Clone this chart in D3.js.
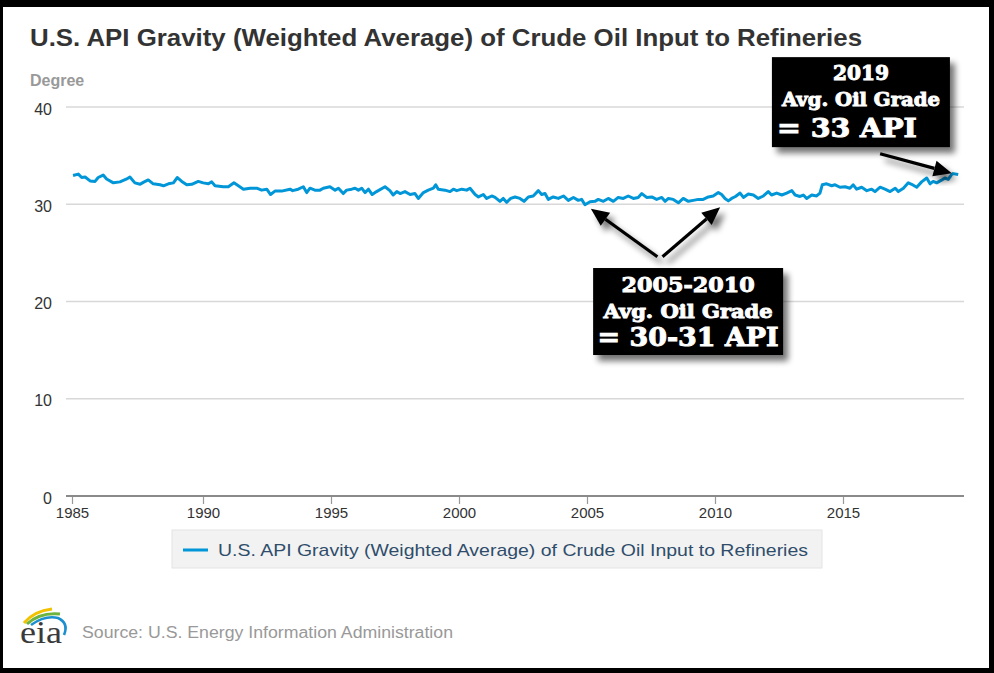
<!DOCTYPE html>
<html><head><meta charset="utf-8">
<script src="https://cdn.jsdelivr.net/npm/d3@7"></script>
<style>body{margin:0;background:#000}svg{display:block}</style>
</head><body><svg id="c" width="994" height="673"></svg>
<script>
// ---- data ----
const years=[1985.04,1985.24,1985.37,1985.5,1985.69,1985.88,1986.0,1986.19,1986.32,1986.58,1986.83,1987.09,1987.21,1987.4,1987.6,1987.72,1987.91,1988.1,1988.36,1988.49,1988.68,1988.87,1989.02,1989.19,1989.38,1989.57,1989.82,1990.01,1990.21,1990.34,1990.47,1990.79,1990.99,1991.21,1991.38,1991.58,1991.84,1992.1,1992.29,1992.49,1992.64,1992.81,1993.07,1993.4,1993.5,1993.72,1993.92,1994.05,1994.18,1994.37,1994.57,1994.7,1994.96,1995.16,1995.29,1995.48,1995.61,1995.81,1995.94,1996.07,1996.2,1996.33,1996.46,1996.61,1996.78,1997.11,1997.3,1997.43,1997.57,1997.7,1997.89,1998.09,1998.28,1998.41,1998.61,1998.8,1999.0,1999.09,1999.19,1999.45,1999.65,1999.78,1999.91,2000.11,2000.3,2000.43,2000.63,2000.76,2000.95,2001.08,2001.28,2001.41,2001.6,2001.73,2001.86,2002.02,2002.19,2002.38,2002.54,2002.71,2002.9,2003.1,2003.23,2003.36,2003.49,2003.68,2003.88,2004.08,2004.27,2004.47,2004.66,2004.79,2004.92,2005.12,2005.31,2005.44,2005.64,2005.83,2006.03,2006.22,2006.42,2006.61,2006.81,2007.0,2007.14,2007.33,2007.53,2007.72,2007.92,2008.05,2008.18,2008.37,2008.57,2008.76,2008.96,2009.15,2009.35,2009.54,2009.74,2009.93,2010.13,2010.26,2010.39,2010.52,2010.65,2010.8,2010.98,2011.11,2011.3,2011.5,2011.69,2011.89,2012.08,2012.21,2012.41,2012.61,2012.8,2013.0,2013.13,2013.32,2013.45,2013.58,2013.78,2013.97,2014.1,2014.19,2014.36,2014.56,2014.69,2014.88,2015.08,2015.27,2015.4,2015.53,2015.73,2015.93,2016.12,2016.25,2016.45,2016.64,2016.84,2017.04,2017.16,2017.36,2017.55,2017.68,2017.88,2018.07,2018.27,2018.4,2018.52,2018.66,2018.83,2018.98,2019.11,2019.24,2019.3,2019.5];
const gravity=[32.95,33.1,32.75,32.8,32.4,32.35,32.75,33.0,32.6,32.2,32.3,32.6,32.8,32.2,32.05,32.25,32.5,32.1,32.0,31.9,32.1,32.2,32.75,32.35,32.0,32.05,32.35,32.2,32.1,32.3,31.9,31.8,31.8,32.2,31.9,31.55,31.65,31.65,31.45,31.55,31.0,31.35,31.35,31.55,31.4,31.55,31.8,31.2,31.65,31.45,31.45,31.65,31.8,31.45,31.65,31.1,31.45,31.55,31.65,31.45,31.65,31.2,31.55,31.0,31.3,31.8,31.4,30.95,31.3,31.1,31.3,31.0,31.1,30.6,31.2,31.45,31.65,32.0,31.55,31.45,31.3,31.55,31.4,31.55,31.45,31.65,31.0,30.75,31.0,30.6,30.85,30.7,30.3,30.6,30.2,30.6,30.75,30.6,30.3,30.75,30.85,31.4,31.0,31.1,30.5,30.75,30.6,30.85,30.4,30.7,30.4,30.5,29.95,30.25,30.3,30.5,30.3,30.6,30.3,30.7,30.6,30.85,30.6,30.7,31.1,30.7,30.75,30.5,30.7,30.3,30.6,30.5,30.15,30.6,30.3,30.4,30.5,30.5,30.75,30.85,31.2,31.0,30.6,30.35,30.6,30.8,31.15,30.7,31.05,30.95,30.6,30.85,31.3,30.95,31.15,30.95,31.15,31.4,30.95,30.8,30.95,30.6,30.95,30.85,31.15,32.0,32.1,31.9,32.0,31.75,31.8,31.65,32.0,31.55,31.75,31.4,31.55,31.3,31.75,31.55,31.3,31.65,31.3,31.65,32.2,32.05,31.75,32.3,32.7,32.1,32.35,32.2,32.45,32.7,32.55,33.05,33.15,33.05];
const xTicks=[1985,1990,1995,2000,2005,2010,2015];
const yTicks=[0,10,20,30,40];
const titleText="U.S. API Gravity (Weighted Average) of Crude Oil Input to Refineries";
const yAxisTitle="Degree";
const seriesName="U.S. API Gravity (Weighted Average) of Crude Oil Input to Refineries";
const sourceText="Source: U.S. Energy Information Administration";
const note2019=["2019","Avg. Oil Grade","= 33 API"];
const note2005=["2005-2010","Avg. Oil Grade","= 30-31 API"];

// ---- setup ----
const svg=d3.select("#c");
const defs=svg.append("defs");
const f=defs.append("filter").attr("id","sh").attr("x","-20%").attr("y","-20%").attr("width","150%").attr("height","160%");
f.append("feGaussianBlur").attr("in","SourceAlpha").attr("stdDeviation",3).attr("result","b");
f.append("feOffset").attr("in","b").attr("dx",5).attr("dy",6).attr("result","o");
f.append("feComponentTransfer").attr("in","o").attr("result","o2").append("feFuncA").attr("type","linear").attr("slope",0.55);
const fm=f.append("feMerge");fm.append("feMergeNode").attr("in","o2");fm.append("feMergeNode").attr("in","SourceGraphic");

svg.append("rect").attr("width",994).attr("height",673).attr("fill","#000");
svg.append("rect").attr("x",3).attr("y",7).attr("width",986).attr("height",661).attr("fill","#fff");

const x=d3.scaleLinear().domain([1985,1990,2015]).range([72,203,843]);
const y=d3.scaleLinear().domain([0,40]).range([496,107]);
const X0=66,X1=964;

// title
svg.append("text").attr("x",30).attr("y",46).text(titleText)
  .attr("font-family","'Liberation Sans',Arial,sans-serif").attr("font-weight","bold")
  .attr("font-size",24.5).attr("fill","#333").attr("textLength",832).attr("lengthAdjust","spacingAndGlyphs");
svg.append("text").attr("x",30).attr("y",86).text(yAxisTitle)
  .attr("font-family","'Liberation Sans',Arial,sans-serif").attr("font-weight","bold")
  .attr("font-size",16).attr("fill","#999");

// gridlines
svg.append("g").selectAll("line").data(yTicks.filter(d=>d>0)).join("line")
  .attr("x1",X0).attr("x2",X1).attr("y1",d=>y(d)).attr("y2",d=>y(d))
  .attr("stroke","#d8d8d8").attr("stroke-width",1.5);
svg.append("g").selectAll("text").data(yTicks).join("text")
  .attr("x",52).attr("y",d=>y(d)+2).attr("dy","0.35em").attr("text-anchor","end")
  .text(d=>d).attr("font-family","'Liberation Sans',Arial,sans-serif").attr("font-size",16).attr("fill","#333");

// x axis
const xa=svg.append("g").attr("transform","translate(0,496)")
  .call(d3.axisBottom(x).tickValues(xTicks).tickFormat(d3.format("d")).tickSize(8).tickPadding(3));
xa.select(".domain").remove();
xa.selectAll(".tick line").attr("stroke","#999").attr("stroke-width",1.2);
xa.selectAll(".tick text").attr("font-family","'Liberation Sans',Arial,sans-serif").attr("font-size",15).attr("fill","#333");
svg.append("line").attr("x1",X0).attr("x2",X1).attr("y1",496).attr("y2",496).attr("stroke","#8a8a8a").attr("stroke-width",2);

// series
const pts=years.map((d,i)=>[d,gravity[i]]);
svg.append("path").datum(pts)
  .attr("d",d3.line().x(d=>x(d[0])).y(d=>y(d[1])))
  .attr("fill","none").attr("stroke","#0096d7").attr("stroke-width",3).attr("stroke-linejoin","round");

// legend
svg.append("rect").attr("x",172).attr("y",530).attr("width",650).attr("height",38)
  .attr("fill","#f2f2f2").attr("stroke","#e4e4e4");
svg.append("line").attr("x1",183).attr("x2",208).attr("y1",550).attr("y2",550).attr("stroke","#0096d7").attr("stroke-width",3);
svg.append("text").attr("x",218).attr("y",550).attr("dy","0.35em").text(seriesName)
  .attr("font-family","'Liberation Sans',Arial,sans-serif").attr("font-size",17).attr("fill","#2f4d6b")
  .attr("textLength",590).attr("lengthAdjust","spacingAndGlyphs");

// source + logo
svg.append("text").attr("x",82).attr("y",632).attr("dy","0.35em").text(sourceText)
  .attr("font-family","'Liberation Sans',Arial,sans-serif").attr("font-size",16).attr("fill","#999")
  .attr("textLength",371).attr("lengthAdjust","spacingAndGlyphs");
const logo=svg.append("g");
logo.append("path").attr("d","M24,623 Q34,611 52,609").attr("fill","none").attr("stroke","#f2c200").attr("stroke-width",3);
logo.append("path").attr("d","M27,624 Q40,612 60,614").attr("fill","none").attr("stroke","#6cb33f").attr("stroke-width",3);
logo.append("path").attr("d","M31,625 Q45,615 58,618 Q69,623 64,635").attr("fill","none").attr("stroke","#1c8fd0").attr("stroke-width",2.6);
logo.append("text").attr("x",20).attr("y",643).text("eia").attr("font-family","'Liberation Serif','Times New Roman',serif")
  .attr("font-size",32).attr("fill","#3a3a3a").attr("textLength",42).attr("lengthAdjust","spacingAndGlyphs");

// annotations (placed in data space)
function arrow(x0,y0,x1,y1){
  const ax=x(x0),ay=y(y0),bx=x(x1),by=y(y1);
  const ang=Math.atan2(by-ay,bx-ax),L=18,W=8;
  const cx=bx-L*Math.cos(ang),cy=by-L*Math.sin(ang);
  const g=svg.append("g").attr("filter","url(#sh)");
  g.append("line").attr("x1",ax).attr("y1",ay).attr("x2",cx).attr("y2",cy).attr("stroke","#000").attr("stroke-width",3.2);
  g.append("path").attr("d",`M${bx},${by}L${cx+W*Math.sin(ang)},${cy-W*Math.cos(ang)}L${cx-W*Math.sin(ang)},${cy+W*Math.cos(ang)}Z`).attr("fill","#000");
}
arrow(2016.45,35.2,2019.25,33.2);
arrow(2007.75,24.6,2005.15,29.55);
arrow(2007.95,24.6,2010.2,29.7);

function box(cxYear,cyVal,w,h,lines,specs){
  const cx=x(cxYear),cy=y(cyVal),top=cy-h/2;
  svg.append("rect").attr("x",cx-w/2).attr("y",top).attr("width",w).attr("height",h).attr("fill","#000").attr("filter","url(#sh)");
  lines.forEach((t,i)=>{
    const s=specs[i];
    svg.append("text").attr("x",cx+(s.dx||0)).attr("y",top+s.y).attr("dy","0.35em").attr("text-anchor","middle")
      .text(t).attr("font-family","'DejaVu Serif Condensed','DejaVu Serif',serif").attr("font-weight","bold")
      .attr("font-size",s.fs).attr("fill","#fff").attr("stroke","#fff").attr("stroke-width",0.9)
      .attr("textLength",s.w).attr("lengthAdjust","spacingAndGlyphs");
  });
}
box(2015.7,40.5,178,90,note2019,[{y:16,fs:20,w:56},{y:42,fs:19,w:158},{y:71,fs:26,w:140,dx:-14}]);
box(2008.95,18.97,190,87,note2005,[{y:17,fs:21,w:133},{y:43,fs:19,w:169},{y:69,fs:26,w:181}]);
</script></body></html>
